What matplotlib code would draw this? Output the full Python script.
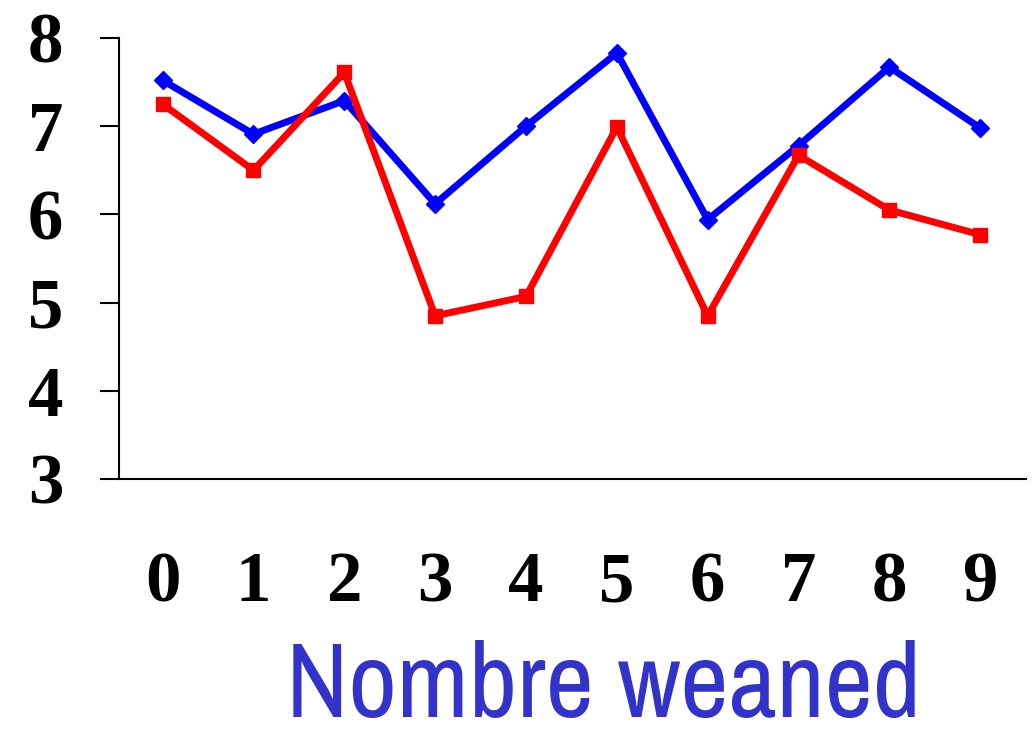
import numpy as np
import matplotlib
matplotlib.use("Agg")
import matplotlib.pyplot as plt
from matplotlib import font_manager

# data
weaned = [0, 1, 2, 3, 4, 5, 6, 7, 8, 9]
blue_vals = [7.52, 6.91, 7.29, 6.12, 7.00, 7.83, 5.94, 6.78, 7.67, 6.98]
red_vals = [7.25, 6.50, 7.61, 4.85, 5.07, 6.99, 4.85, 6.67, 6.05, 5.77]
y_ticks = [3, 4, 5, 6, 7, 8]

# the x label looks like Arial Narrow; use a narrow face if one is installed
names = sorted({f.name for f in font_manager.fontManager.ttflist})
narrow = [n for n in names if "Narrow" in n or "Condensed" in n]
if "Liberation Sans Narrow" in names:
    narrow = ["Liberation Sans Narrow"]
if narrow:
    label_font, label_size = [narrow[0], "Liberation Sans"], 76
else:
    label_font, label_size = ["Liberation Sans"], 63

fig = plt.figure(figsize=(10.36, 7.35), dpi=100)
ax = fig.add_axes([0.1149, 0.3483, 0.8751, 0.6000])

ax.plot(weaned, blue_vals, color="#0000FF", lw=5, marker="D", ms=9.5, clip_on=False)
ax.plot(weaned, red_vals, color="#FF0000", lw=5, marker="s", ms=9.5, clip_on=False)

ax.set_xlim(-0.48, 9.5)
ax.set_ylim(3, 8)
ax.set_yticks(y_ticks)
ax.set_xticks(weaned)

for s in ["top", "right"]:
    ax.spines[s].set_visible(False)
ax.spines["left"].set_linewidth(1.5)
ax.spines["bottom"].set_linewidth(1.5)

ax.tick_params(axis="y", length=14, width=1.5, pad=26)
ax.tick_params(axis="x", length=0, pad=52)
for lab in ax.get_xticklabels() + ax.get_yticklabels():
    lab.set_fontfamily("Liberation Serif")
    lab.set_fontweight("bold")
    lab.set_fontsize(51)

fig.text(0.583, 0.0, "Nombre weaned", color="#3333CC", fontsize=label_size,
         family=label_font, ha="center", va="bottom")

fig.savefig("out.png", dpi=100)
